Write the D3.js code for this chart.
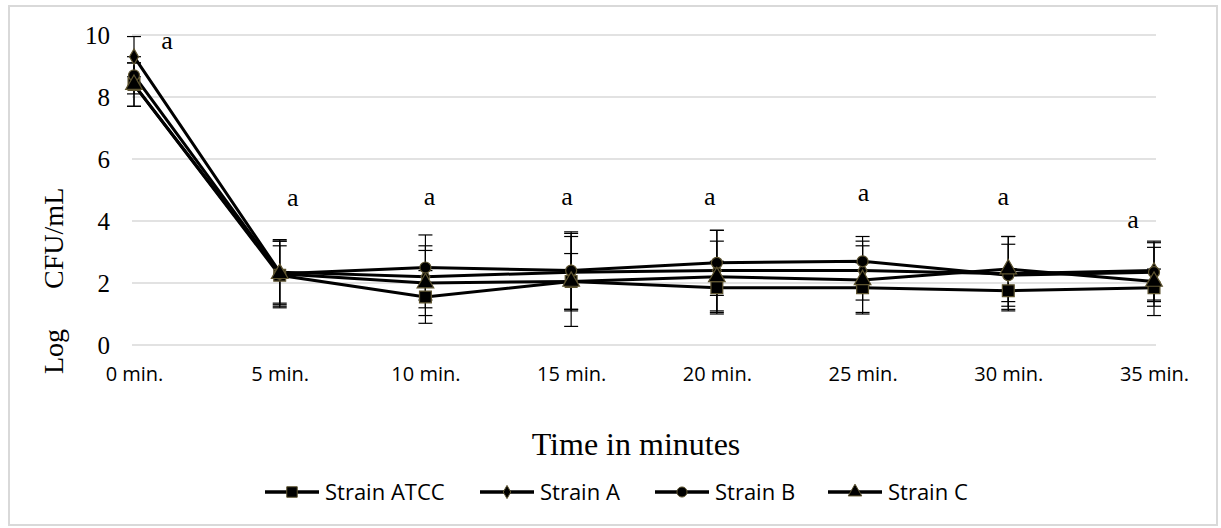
<!DOCTYPE html>
<html>
<head>
<meta charset="utf-8">
<script src="https://cdn.jsdelivr.net/npm/d3@7"></script>
<style>
  body { margin: 0; background: #fff; }
</style>
</head>
<body>
<svg id="chart" width="1221" height="528"></svg>
<script>
// time points on the x axis
let times = ["0 min.", "5 min.", "10 min.", "15 min.", "20 min.", "25 min.", "30 min.", "35 min."];
let yTicks = [0, 2, 4, 6, 8, 10];

// mean log CFU/mL per strain
let atcc = [8.4, 2.25, 1.55, 2.05, 1.85, 1.85, 1.75, 1.85];
let strainA = [9.3, 2.35, 2.2, 2.35, 2.4, 2.4, 2.3, 2.4];
let strainB = [8.7, 2.3, 2.5, 2.4, 2.65, 2.7, 2.25, 2.35];
let strainC = [8.4, 2.3, 2.0, 2.05, 2.2, 2.1, 2.45, 2.05];

// error bar half-widths
let atccErr = [0.7, 0.95, 0.85, 0.9, 0.85, 0.8, 0.6, 0.6];
let strainAErr = [0.65, 1.0, 1.0, 1.25, 1.3, 0.95, 1.2, 0.95];
let strainBErr = [0.6, 1.1, 1.05, 1.25, 1.05, 0.8, 1.0, 0.95];
let strainCErr = [0.7, 1.05, 1.05, 1.45, 1.15, 1.1, 1.05, 1.1];

// significance letters and the height they sit at
let letters = ["a", "a", "a", "a", "a", "a", "a", "a"];
let letterY = [9.77, 4.68, 4.74, 4.74, 4.71, 4.84, 4.74, 4.0];

let series = [
  { name: "Strain ATCC", values: atcc, err: atccErr, symbol: d3.symbolSquare, size: 140, lsize: 110 },
  { name: "Strain A", values: strainA, err: strainAErr, symbol: d3.symbolDiamond, size: 70, lsize: 50 },
  { name: "Strain B", values: strainB, err: strainBErr, symbol: d3.symbolCircle, size: 95, lsize: 80 },
  { name: "Strain C", values: strainC, err: strainCErr, symbol: d3.symbolTriangle, size: 120, lsize: 80 },
];

var svg = d3.select("#chart");

// outer frame
svg.append("rect")
  .attr("x", 9).attr("y", 6)
  .attr("width", 1208).attr("height", 519)
  .attr("fill", "#fff")
  .attr("stroke", "#d9d9d9")
  .attr("stroke-width", 2);

var x = d3.scalePoint().domain(times).range([134, 1154]);
var y = d3.scaleLinear().domain([0, 10]).range([345, 35]);

// gridlines
svg.append("g")
  .selectAll("line")
  .data(yTicks)
  .join("line")
  .attr("x1", 132).attr("x2", 1156)
  .attr("y1", d => y(d)).attr("y2", d => y(d))
  .attr("stroke", "#d9d9d9")
  .attr("stroke-width", 1.5);

// y axis labels
var yAxis = svg.append("g")
  .attr("transform", "translate(110,0)")
  .call(d3.axisLeft(y).tickValues(yTicks).tickSize(0).tickPadding(0));
yAxis.select(".domain").remove();
yAxis.selectAll("text")
  .style("font-family", "'Liberation Serif', serif")
  .style("font-size", "25px")
  .attr("fill", "#000");

// x axis labels
var xAxis = svg.append("g")
  .attr("transform", "translate(0,345)")
  .call(d3.axisBottom(x).tickSize(0).tickPadding(22));
xAxis.select(".domain").remove();
xAxis.selectAll("text")
  .style("font-family", "'Open Sans', sans-serif")
  .style("font-size", "20px")
  .attr("fill", "#000");

// axis titles
var yTitle = svg.append("text")
  .attr("transform", "translate(63,374) rotate(-90)")
  .style("font-family", "'Liberation Serif', serif")
  .style("font-size", "28px");
yTitle.append("tspan").text("Log");
yTitle.append("tspan").attr("dx", 40).text("CFU/mL");

svg.append("text")
  .attr("x", 636).attr("y", 455)
  .attr("text-anchor", "middle")
  .style("font-family", "'Liberation Serif', serif")
  .style("font-size", "32px")
  .text("Time in minutes");

var line = d3.line()
  .x((d, i) => x(times[i]))
  .y(d => y(d));

// error bars
series.forEach(s => {
  var g = svg.append("g");
  s.values.forEach((v, i) => {
    var cx = x(times[i]);
    g.append("line")
      .attr("x1", cx).attr("x2", cx)
      .attr("y1", y(v - s.err[i])).attr("y2", y(v + s.err[i]))
      .attr("stroke", "#000").attr("stroke-width", 1.2);
    [v - s.err[i], v + s.err[i]].forEach(e => {
      g.append("line")
        .attr("x1", cx - 7).attr("x2", cx + 7)
        .attr("y1", y(e)).attr("y2", y(e))
        .attr("stroke", "#000").attr("stroke-width", 1.2);
    });
  });
});

// lines
series.forEach(s => {
  svg.append("path")
    .datum(s.values)
    .attr("d", line)
    .attr("fill", "none")
    .attr("stroke", "#000")
    .attr("stroke-width", 3);
});

// markers
series.forEach(s => {
  svg.append("g")
    .selectAll("path")
    .data(s.values)
    .join("path")
    .attr("transform", (d, i) => `translate(${x(times[i])},${y(d)})`)
    .attr("d", d3.symbol().type(s.symbol).size(s.size))
    .attr("fill", "#000")
    .attr("stroke", "#5e5430")
    .attr("stroke-width", 1.2);
});

// significance letters
let letterDx = [33, 13, 4, -4, -7, 1, -5, -21];
svg.append("g")
  .selectAll("text")
  .data(letters)
  .join("text")
  .attr("x", (d, i) => x(times[i]) + letterDx[i])
  .attr("y", (d, i) => y(letterY[i]))
  .attr("dy", "0.25em")
  .attr("text-anchor", "middle")
  .style("font-family", "'Liberation Serif', serif")
  .style("font-size", "26px")
  .text(d => d);

// legend
let legendX = [265, 480, 655, 828];
var legend = svg.append("g").attr("transform", "translate(0,492)");
series.forEach((s, i) => {
  var lg = legend.append("g").attr("transform", `translate(${legendX[i]},0)`);
  lg.append("line")
    .attr("x1", 0).attr("x2", 54)
    .attr("stroke", "#000").attr("stroke-width", 3.5);
  lg.append("path")
    .attr("transform", "translate(27,0)")
    .attr("d", d3.symbol().type(s.symbol).size(s.lsize))
    .attr("fill", "#000")
    .attr("stroke", "#5e5430")
    .attr("stroke-width", 1);
  lg.append("text")
    .attr("x", 60).attr("dy", "0.36em")
    .style("font-family", "'Open Sans', sans-serif")
    .style("font-size", "22px")
    .text(s.name);
});
</script>
</body>
</html>
